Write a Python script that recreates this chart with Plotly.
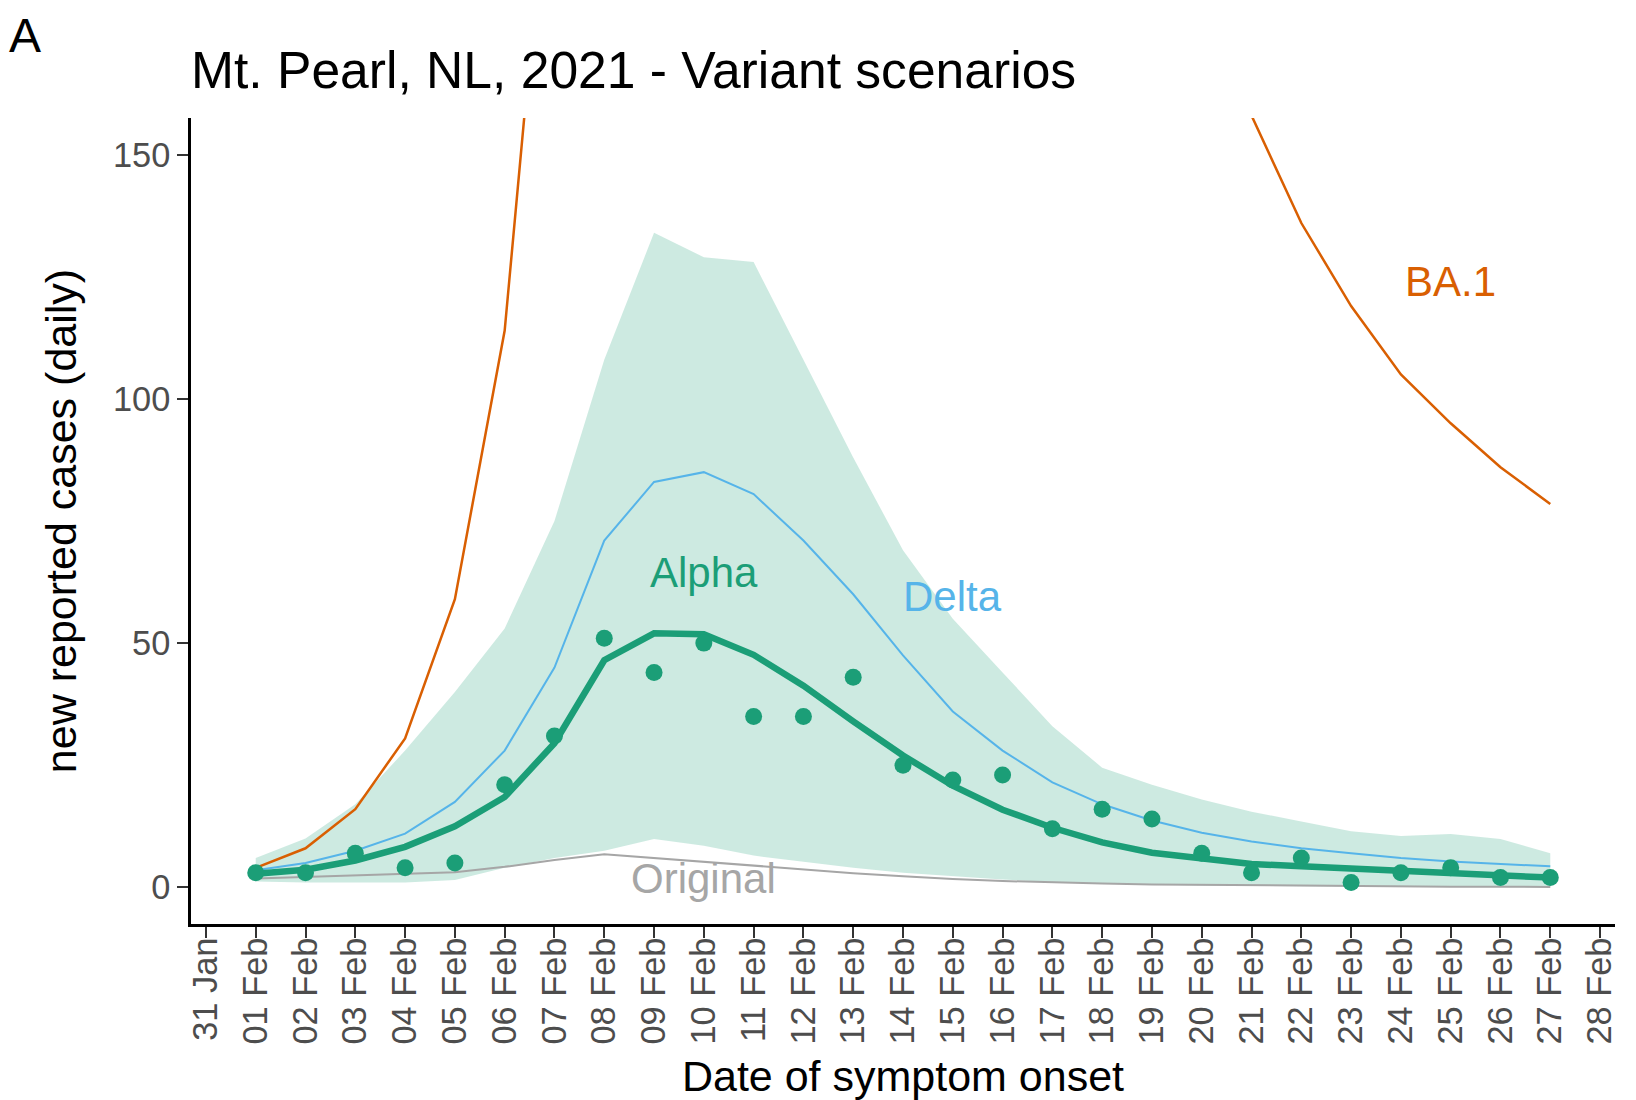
import plotly.graph_objects as go

# days with model output / observations (01 Feb .. 27 Feb 2021)
dates = [f"2021-02-{d:02d}" for d in range(1, 28)]

observed = [3, 3, 7, 4, 5, 21, 31, 51, 44, 50, 35, 35, 43, 25, 22, 23, 12, 16, 14, 7,
            3, 6, 1, 3, 4, 2, 2]
alpha_fit = [2.8, 3.6, 5.5, 8.3, 12.5, 18.5, 29.5, 46.5, 52, 51.8, 47.6, 41.3, 34, 27,
             20.8, 15.9, 12.2, 9.2, 7.1, 5.8, 4.8, 4.3, 3.8, 3.2, 2.8, 2.3, 2.0]
alpha_lo = [1.2, 1.0, 1.0, 1.0, 1.5, 4.0, 6.0, 7.5, 9.9, 8.5, 6.5, 5.3, 4.0, 3.0, 2.3,
            1.6, 1.1, 0.8, 0.6, 0.4, 0.3, 0.2, 0.1, 0.1, 0.1, 0.0, 0.0]
alpha_hi = [6, 10, 17, 28, 40, 53, 75, 108, 134, 129, 128, 108, 88, 69, 55, 44, 33,
            24.5, 21, 18, 15.5, 13.5, 11.5, 10.5, 10.9, 9.9, 7]
delta = [3.5, 5, 7.5, 11, 17.5, 28, 45, 71, 83, 85, 80.5, 71, 60, 47.5, 36, 28, 21.5,
         17, 13.7, 11.2, 9.4, 8, 7, 6, 5.3, 4.8, 4.3]
# BA.1 runs far above the visible range between 07 and 21 Feb (estimated)
ba1 = [4, 8, 16, 30.5, 59, 114, 225, 400, 620, 800, 880, 850, 760, 640, 520, 420, 340,
       280, 230, 190, 158, 136, 119, 105, 95, 86, 78.5]
original = [1.8, 2.1, 2.4, 2.7, 3.1, 4.2, 5.6, 6.8, 6.0, 5.3, 4.4, 3.7, 2.9, 2.3, 1.7,
            1.3, 1.0, 0.8, 0.6, 0.5, 0.4, 0.3, 0.25, 0.2, 0.15, 0.12, 0.1]

GREEN = "#1B9E77"
ORANGE = "#D95F02"
BLUE = "#56B4E9"
GREY = "#A6A6A6"
FONT = "Liberation Sans, Arial, Helvetica, sans-serif"

# page body adds an 8px margin, so the figure is 8px smaller than the window
W, H = 1628, 1092

fig = go.Figure()

# credible band for Alpha
fig.add_trace(go.Scatter(x=dates, y=alpha_lo, mode="lines", line=dict(width=0),
                         showlegend=False, hoverinfo="skip"))
fig.add_trace(go.Scatter(x=dates, y=alpha_hi, mode="lines", line=dict(width=0),
                         fill="tonexty", fillcolor="rgba(27,158,119,0.22)",
                         showlegend=False, hoverinfo="skip"))

fig.add_trace(go.Scatter(x=dates, y=original, mode="lines", name="Original",
                         line=dict(color=GREY, width=2)))
fig.add_trace(go.Scatter(x=dates, y=delta, mode="lines", name="Delta",
                         line=dict(color=BLUE, width=2)))
fig.add_trace(go.Scatter(x=dates, y=ba1, mode="lines", name="BA.1",
                         line=dict(color=ORANGE, width=2.5)))
fig.add_trace(go.Scatter(x=dates, y=alpha_fit, mode="lines", name="Alpha",
                         line=dict(color=GREEN, width=6.5)))
fig.add_trace(go.Scatter(x=dates, y=observed, mode="markers", name="observed",
                         marker=dict(color=GREEN, size=17)))

# direct labels
labels = [("BA.1", "2021-02-25", 124, ORANGE),
          ("Alpha", "2021-02-10", 64.5, GREEN),
          ("Delta", "2021-02-15", 59.6, BLUE),
          ("Original", "2021-02-10", 1.9, GREY)]
for text, x, y, color in labels:
    fig.add_annotation(x=x, y=y, text=text, showarrow=False,
                       font=dict(family=FONT, size=42, color=color))

# panel tag, top-left corner of the figure
fig.add_annotation(text="A", xref="paper", yref="paper", x=-0.1285, y=1 + 110 / 806,
                   xanchor="left", yanchor="top", showarrow=False, borderpad=0,
                   font=dict(family=FONT, size=48, color="black"))

fig.update_layout(
    width=W, height=H,
    margin=dict(l=183, r=21, t=110, b=176),
    paper_bgcolor="white", plot_bgcolor="white",
    showlegend=False,
    font=dict(family=FONT),
    title=dict(text="Mt. Pearl, NL, 2021 - Variant scenarios",
               x=183 / W, xanchor="left", y=1 - 62.4 / H, yanchor="middle",
               font=dict(family=FONT, size=51.6, color="black")),
)
fig.update_xaxes(
    range=["2021-01-30 16:48", "2021-02-28 07:12"],
    tickmode="linear", tick0="2021-01-31", dtick=86400000, tickformat="%d %b",
    tickangle=-90, ticks="outside", ticklen=11, tickwidth=2, tickcolor="#333333",
    ticklabelstandoff=-14,
    tickfont=dict(family=FONT, size=34.4, color="#4D4D4D"),
    showline=True, linecolor="black", linewidth=2.5, showgrid=False, zeroline=False,
    automargin=False,
    title=dict(text="Date of symptom onset", standoff=18,
               font=dict(family=FONT, size=43, color="black")),
)
fig.update_yaxes(
    range=[-7.5, 157.5], tickvals=[0, 50, 100, 150],
    ticks="outside", ticklen=11, tickwidth=2, tickcolor="#333333",
    tickfont=dict(family=FONT, size=34.4, color="#4D4D4D"),
    showline=True, linecolor="black", linewidth=2.5, showgrid=False, zeroline=False,
    automargin=False,
    title=dict(text="new reported cases (daily)", standoff=23,
               font=dict(family=FONT, size=43, color="black")),
)

fig.write_html("out.html")
